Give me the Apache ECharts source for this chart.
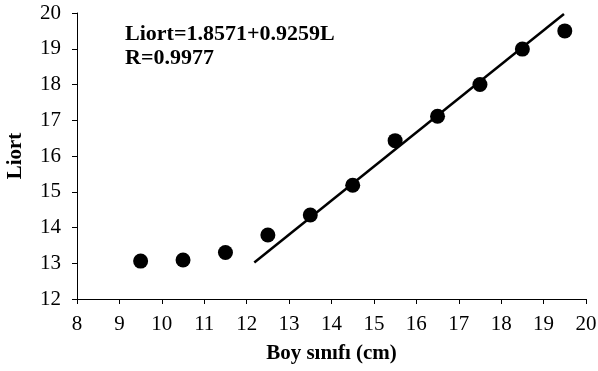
<!DOCTYPE html>
<html>
<head>
<meta charset="utf-8">
<script src="https://cdn.jsdelivr.net/npm/echarts@6/dist/echarts.min.js"></script>
<style>
	html, body { margin: 0; padding: 0; background: #fff; }
	#chart { width: 598px; height: 371px; }
</style>
</head>
<body>
<div id="chart"></div>
<script>
// boy sınıfı (cm) ve Liort değerleri
var boyX = [9.5, 10.5, 11.5, 12.5, 13.5, 14.5, 15.5, 16.5, 17.5, 18.5, 19.5];
var liortY = [13.06, 13.09, 13.30, 13.79, 14.35, 15.18, 16.43, 17.11, 18.00, 18.99, 19.50];
// regresyon doğrusu uçları
var trendX = [12.18, 19.48];
var trendY = [13.02, 19.97];
var xTicks = [8, 9, 10, 11, 12, 13, 14, 15, 16, 17, 18, 19, 20];
var yTicks = [12, 13, 14, 15, 16, 17, 18, 19, 20];
var eqText = ['Liort=1.8571+0.9259L', 'R=0.9977'];

window.onload = function() {
	var chart = echarts.init(document.getElementById('chart'));
	var font = '"Liberation Serif", "Times New Roman", serif';
	var axisLine = { show: true, lineStyle: { color: '#000', width: 1 } };

	var points = boyX.map(function(x, i) { return [x, liortY[i]]; });
	var trend = trendX.map(function(x, i) { return [x, trendY[i]]; });

	var option = {
		animation: false,
		backgroundColor: '#fff',
		grid: { left: 77, right: 12, top: 13, bottom: 72, outerBoundsMode: 'none', containLabel: false },
		xAxis: {
			type: 'value',
			min: xTicks[0],
			max: xTicks[xTicks.length - 1],
			interval: 1,
			name: 'Boy sınıfı (cm)',
			nameLocation: 'middle',
			nameGap: 44,
			nameTextStyle: { color: '#000', fontFamily: font, fontSize: 21, fontWeight: 'bold' },
			axisLine: axisLine,
			axisTick: { show: true, length: 5, lineStyle: { color: '#000' } },
			axisLabel: { color: '#000', fontFamily: font, fontSize: 21, margin: 15 },
			splitLine: { show: false }
		},
		yAxis: {
			type: 'value',
			min: yTicks[0],
			max: yTicks[yTicks.length - 1],
			interval: 1,
			name: 'Liort',
			nameLocation: 'middle',
			nameGap: 51,
			nameRotate: 90,
			nameTextStyle: { color: '#000', fontFamily: font, fontSize: 21, fontWeight: 'bold' },
			axisLine: axisLine,
			axisTick: { show: true, length: 5, lineStyle: { color: '#000' } },
			axisLabel: { color: '#000', fontFamily: font, fontSize: 21, margin: 16 },
			splitLine: { show: false }
		},
		graphic: [{
			type: 'text',
			left: 125,
			top: 22,
			style: {
				text: eqText.join('\n'),
				fill: '#000',
				font: 'bold 22px ' + font,
				lineHeight: 24
			}
		}],
		series: [{
				name: 'trend',
				type: 'line',
				data: trend,
				symbol: 'none',
				lineStyle: { color: '#000', width: 2.5 },
				z: 2
			},
			{
				name: 'Liort',
				type: 'scatter',
				data: points,
				symbolSize: 15,
				itemStyle: { color: '#000', opacity: 1 },
				z: 3
			}
		]
	};
	chart.setOption(option);
};
</script>
</body>
</html>
